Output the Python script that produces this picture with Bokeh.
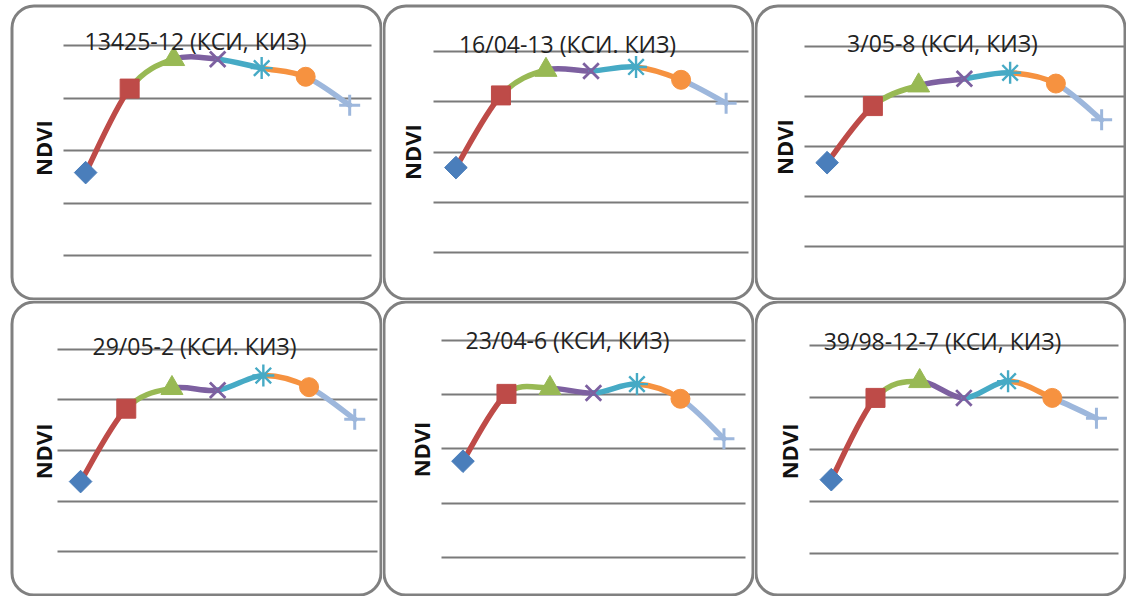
import numpy as np
from bokeh.plotting import figure
from bokeh.models import ColumnDataSource, Label, BoxAnnotation, Grid, FixedTicker, Range1d
from bokeh.layouts import gridplot
from bokeh.embed import file_html
from bokeh.resources import INLINE

# ---------------- data ----------------
stages = ["1", "2", "3", "4", "5", "6", "7"]
y_ticks = [0.0, 0.2, 0.4, 0.6, 0.8]
titles = ["13425-12 (КСИ, КИЗ)", "16/04-13 (КСИ. КИЗ)", "3/05-8 (КСИ, КИЗ)",
          "29/05-2 (КСИ. КИЗ)", "23/04-6 (КСИ, КИЗ)", "39/98-12-7 (КСИ, КИЗ)"]
ndvi_13425_12 = [0.316, 0.636, 0.748, 0.748, 0.714, 0.681, 0.573]
ndvi_16_04_13 = [0.338, 0.625, 0.726, 0.722, 0.738, 0.687, 0.594]
ndvi_3_05_8 = [0.336, 0.562, 0.644, 0.671, 0.695, 0.652, 0.507]
ndvi_29_05_2 = [0.277, 0.565, 0.646, 0.638, 0.696, 0.650, 0.523]
ndvi_23_04_6 = [0.355, 0.603, 0.624, 0.606, 0.639, 0.585, 0.438]
ndvi_39_98_12_7 = [0.284, 0.598, 0.662, 0.598, 0.662, 0.598, 0.520]
series = [ndvi_13425_12, ndvi_16_04_13, ndvi_3_05_8,
          ndvi_29_05_2, ndvi_23_04_6, ndvi_39_98_12_7]

# ---------------- styles ----------------
point_colors = ["#4a7ebb", "#be4b48", "#98b954", "#7d60a0", "#46aac5", "#f69240", "#9db7dc"]
point_markers = ["square", "square", "triangle", "x", "asterisk", "circle", "cross"]
point_angles = [np.pi / 4, 0, 0, 0, 0, 0, 0]
point_sizes = [16, 19, 22, 22, 22, 19, 21]
point_lw = [1, 1, 1, 2.8, 2.4, 1, 3]

# panel geometry (px): reference panel sizes and our panel sizes / offsets
ref_col_w = [378, 380, 374]
ref_row_h = [303, 304]
PW, PH = 372, 296
col_off = [10, 0, 0]
row_off = [4, 0]
# (plot left, plot right, grid top, grid bottom, title x, title y, ndvi x, ndvi y)
# in reference px from each panel's top-left corner
panel_layout = [
    (54, 367, 42, 257, 188, 37, 33, 147),
    (52, 374, 48, 254, 189, 40, 30, 151),
    (50, 372, 43, 248, 189, 39, 30, 146),
    (48, 373, 50, 258, 187, 47, 33, 155),
    (60, 371, 41, 264, 189, 41, 39, 153),
    (55, 366, 46, 260, 189, 42, 35, 155),
]


def smooth_segments(xs, ys):
    P = np.column_stack([xs, ys]).astype(float)
    n = len(P)
    out = {k: [] for k in ["x0", "y0", "x1", "y1", "cx0", "cy0", "cx1", "cy1", "color"]}
    for i in range(n - 1):
        p0 = P[i - 1] if i > 0 else P[i]
        p1, p2 = P[i], P[i + 1]
        p3 = P[i + 2] if i + 2 < n else P[i + 1]
        c1 = p1 + (p2 - p0) / 6.0
        c2 = p2 - (p3 - p1) / 6.0
        out["x0"].append(p1[0]); out["y0"].append(p1[1])
        out["x1"].append(p2[0]); out["y1"].append(p2[1])
        out["cx0"].append(c1[0]); out["cy0"].append(c1[1])
        out["cx1"].append(c2[0]); out["cy1"].append(c2[1])
        out["color"].append(point_colors[i + 1])
    return out


def make_panel(idx, title, vals, lay):
    r, c = divmod(idx, 3)
    sx = PW / ref_col_w[c]
    sy = PH / ref_row_h[r]
    ox, oy = col_off[c], row_off[r]
    W, H = PW + ox, PH + oy
    left, right, top, bottom, tx, ty, nx, ny = lay
    left, right, tx, nx = [ox + v * sx for v in (left, right, tx, nx)]
    top, bottom, ty, ny = [oy + v * sy for v in (top, bottom, ty, ny)]

    n = len(stages)
    cat_w = (right - left) / n
    x_start = -0.5 - left / cat_w
    x_end = n - 0.5 + (W - right) / cat_w
    ppu = (bottom - top) / (y_ticks[-1] - y_ticks[0])
    y_start = y_ticks[0] - (H - bottom) / ppu
    y_end = y_ticks[-1] + top / ppu

    p = figure(width=W, height=H, x_range=Range1d(x_start, x_end), y_range=Range1d(y_start, y_end),
               x_axis_type=None, y_axis_type=None, toolbar_location=None, output_backend="svg",
               min_border=0, outline_line_color=None,
               background_fill_color="white", border_fill_color="white")

    g = Grid(dimension=1, ticker=FixedTicker(ticks=y_ticks),
             grid_line_color="#7a7a7a", grid_line_width=2)
    if "cross_bounds" in Grid.properties():
        g.cross_bounds = (-0.5, n - 0.5)
        p.add_layout(g)
    else:
        p.segment(x0=[-0.5] * len(y_ticks), x1=[n - 0.5] * len(y_ticks), y0=y_ticks, y1=y_ticks,
                  line_color="#7a7a7a", line_width=2)

    xs = list(range(n))
    seg = ColumnDataSource(smooth_segments(xs, vals))
    p.bezier(x0="x0", y0="y0", x1="x1", y1="y1", cx0="cx0", cy0="cy0", cx1="cx1", cy1="cy1",
             source=seg, line_color="color", line_width=5.5, line_cap="round")

    pts = ColumnDataSource(dict(x=xs, y=vals, marker=point_markers, color=point_colors,
                                size=point_sizes, angle=point_angles, lw=point_lw))
    p.scatter(x="x", y="y", marker="marker", size="size", angle="angle", source=pts,
              fill_color="color", line_color="color", line_width="lw")

    p.add_layout(Label(x=tx, y=H - ty, x_units="screen", y_units="screen", text=title,
                       text_align="center", text_baseline="middle", text_font="Open Sans",
                       text_font_size="23px", text_color="#222222"))
    p.add_layout(Label(x=nx, y=H - ny, x_units="screen", y_units="screen", text="NDVI",
                       angle=90, angle_units="deg", text_align="center", text_baseline="middle",
                       text_font="Open Sans", text_font_style="bold", text_font_size="22px",
                       text_color="#111111"))

    box = BoxAnnotation(left=ox + 1.5, right=W - 1.5, bottom=1.5, top=H - oy - 1.5,
                        left_units="screen", right_units="screen",
                        bottom_units="screen", top_units="screen",
                        fill_alpha=0, line_color="#808080", line_width=3, line_alpha=1)
    if "border_radius" in BoxAnnotation.properties():
        box.border_radius = 22
    p.add_layout(box)
    return p


panels = [make_panel(i, t, v, l) for i, (t, v, l) in enumerate(zip(titles, series, panel_layout))]
grid = gridplot([panels[:3], panels[3:]], toolbar_location=None)

open("out.html", "w").write(file_html(grid, INLINE, title="NDVI"))
